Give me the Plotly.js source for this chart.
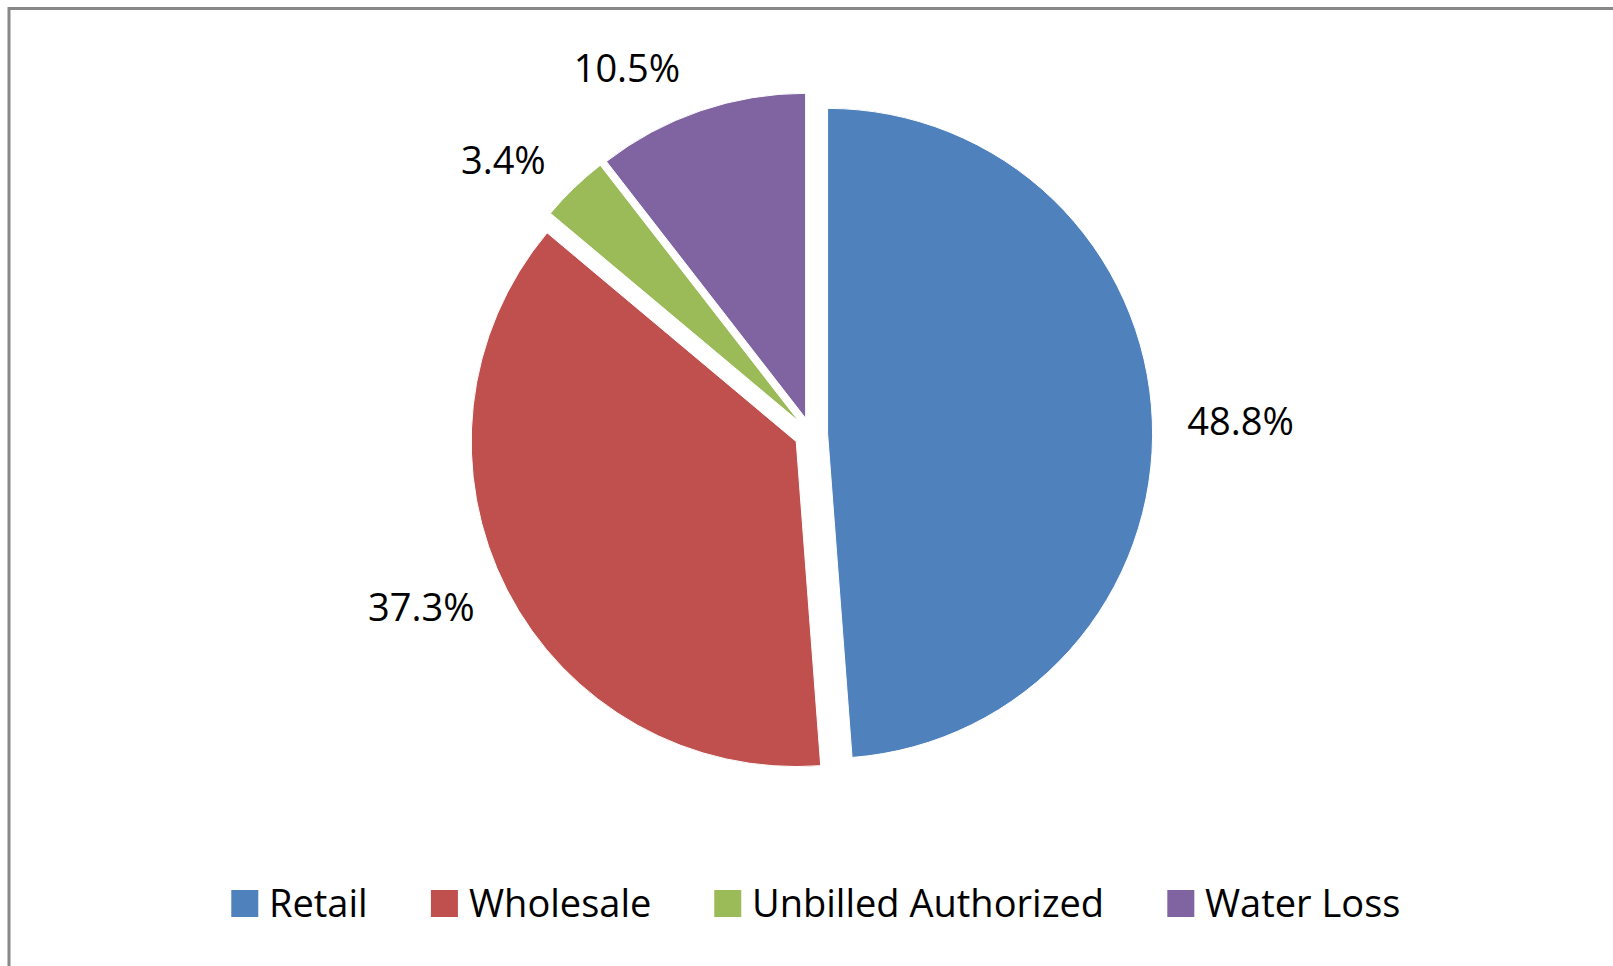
<!DOCTYPE html>
<html>
<head>
<meta charset="utf-8">
<script src="https://cdn.plot.ly/plotly-3.0.1.min.js"></script>
<style>html,body{margin:0;padding:0;background:#fff;}</style>
</head>
<body>
<div id="chart" style="width:1613px;height:966px;"></div>
<script>
const categories = ["Retail", "Wholesale", "Unbilled Authorized", "Water Loss"];
const shares = [48.8, 37.3, 3.4, 10.5];
const colors = ["#4F81BD", "#C0504D", "#9BBB59", "#8064A2"];

const W = 1613, H = 966;
const FONT = "Open Sans";
const FS = 38;
const cx = 811, cy = 434;
const R = 325, pullPx = 16.6;       // visible pie radius and explode distance
const RL = 347;                      // radius used to place the outside labels

function domainFor(r, pullFrac) {
  const half = r * (1 + pullFrac);
  return {
    x: [(cx - half) / W, (cx + half) / W],
    y: [1 - (cy + half) / H, 1 - (cy - half) / H]
  };
}

const pullVis = pullPx / R;
const pullLab = pullPx / RL;

// visible slices
const pieTrace = {
  type: "pie",
  labels: categories,
  values: shares,
  sort: false,
  direction: "clockwise",
  rotation: 0,
  pull: categories.map(() => pullVis),
  marker: { colors: colors, line: { color: "#ffffff", width: 1 } },
  textinfo: "none",
  automargin: false,
  hoverinfo: "label+percent",
  showlegend: false,
  domain: domainFor(R, pullVis)
};

// same data, transparent, only used to place the percentage labels a bit further out
const labelTrace = {
  type: "pie",
  labels: categories,
  values: shares,
  sort: false,
  direction: "clockwise",
  rotation: 0,
  pull: categories.map(() => pullLab),
  marker: { colors: categories.map(() => "rgba(0,0,0,0)"), line: { width: 0 } },
  textposition: "outside",
  texttemplate: "%{value:.1f}%",
  outsidetextfont: { family: FONT, size: FS, color: "#000000" },
  automargin: false,
  hoverinfo: "skip",
  showlegend: false,
  domain: domainFor(RL, pullLab)
};

// custom legend (large square swatches, wide spacing)
const canvas = document.createElement("canvas");
const ctx = canvas.getContext("2d");
ctx.font = FS + "px '" + FONT + "'";
const textW = categories.map(c => ctx.measureText(c).width);
const SW = 27, SWGAP = 11, ITEMGAP = 63;
const total = categories.length * (SW + SWGAP) + textW.reduce((a, b) => a + b, 0) + (categories.length - 1) * ITEMGAP;
const legendCx = 816, legendCy = 903.5;
let xpos = legendCx - total / 2;
const shapes = [];
const annotations = [];
categories.forEach((c, i) => {
  shapes.push({
    type: "rect", xref: "paper", yref: "paper",
    x0: xpos / W, x1: (xpos + SW) / W,
    y0: 1 - (legendCy + SW / 2) / H, y1: 1 - (legendCy - SW / 2) / H,
    fillcolor: colors[i], line: { width: 0 }
  });
  annotations.push({
    xref: "paper", yref: "paper",
    x: (xpos + SW + SWGAP - 2) / W, y: 1 - (legendCy - 2) / H,
    xanchor: "left", yanchor: "middle",
    text: c, showarrow: false,
    font: { family: FONT, size: FS, color: "#000000" }
  });
  xpos += SW + SWGAP + textW[i] + ITEMGAP;
});

// chart frame
shapes.push({
  type: "rect",
  xref: "paper", yref: "paper",
  x0: 9 / W, x1: 1.02,
  y0: -0.02, y1: 1 - 8.5 / H,
  line: { color: "#888888", width: 3 },
  fillcolor: "rgba(0,0,0,0)"
});

const layout = {
  width: W,
  height: H,
  margin: { l: 0, r: 0, t: 0, b: 0 },
  paper_bgcolor: "#ffffff",
  showlegend: false,
  shapes: shapes,
  annotations: annotations
};

Plotly.newPlot("chart", [pieTrace, labelTrace], layout, { displayModeBar: false, staticPlot: true });
</script>
</body>
</html>
